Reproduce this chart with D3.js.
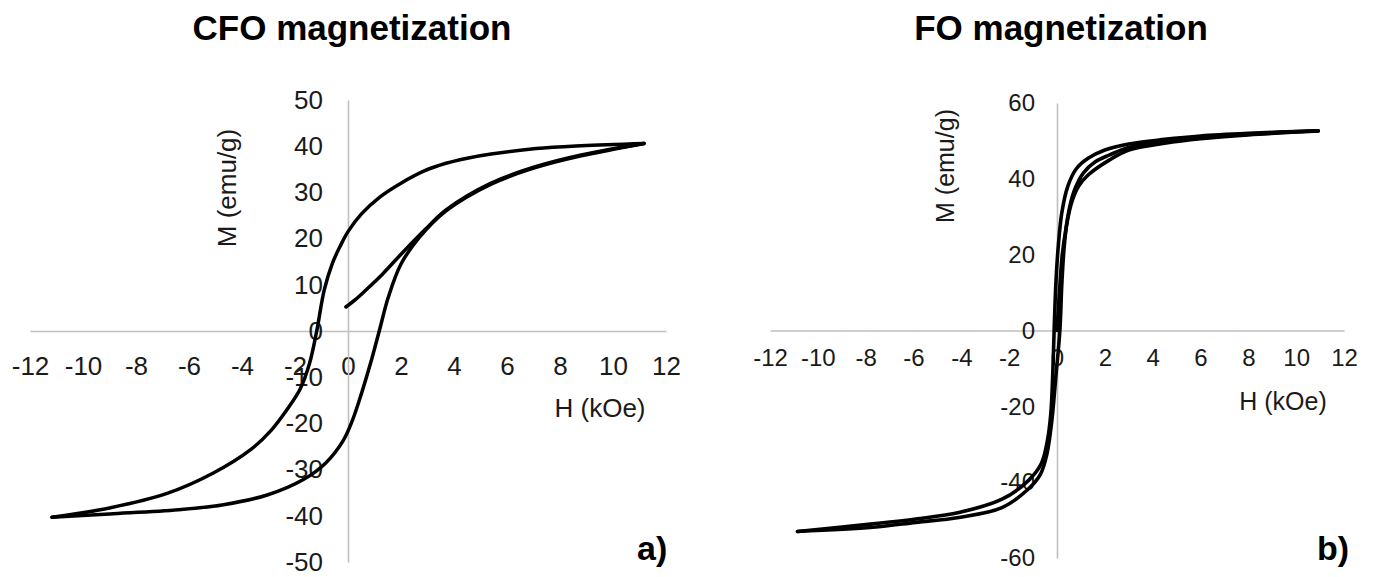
<!DOCTYPE html>
<html>
<head>
<meta charset="utf-8">
<script src="https://cdn.jsdelivr.net/npm/d3@7"></script>
<style>
  html, body { margin: 0; padding: 0; background: #fff; }
  svg { display: block; }
</style>
</head>
<body>
<svg id="chart" width="1375" height="577"></svg>
<script>
// ---- Data (H in kOe, M in emu/g) ----
const xTicks = [-12, -10, -8, -6, -4, -2, 0, 2, 4, 6, 8, 10, 12];
const cfoYTicks = [-50, -40, -30, -20, -10, 0, 10, 20, 30, 40, 50];
const foYTicks = [-60, -40, -20, 0, 20, 40, 60];

const cfoDescending = [
  [11.17, 40.6], [8.8, 40.1], [7.1, 39.5], [5.4, 38.3], [4.5, 37.4], [3.7, 36.3],
  [2.9, 34.7], [2.0, 32.0], [1.2, 29.0], [0.5, 25.3], [0.0, 21.5], [-0.3, 18.3],
  [-0.6, 14.5], [-0.9, 8.8], [-1.18, 0], [-1.45, -7], [-1.8, -12.5], [-2.3, -17],
  [-2.9, -21.5], [-3.7, -25.8], [-5.1, -30.8], [-6.8, -35.1], [-9.0, -38.3], [-11.17, -40.3]
];
const cfoAscending = [
  [-11.17, -40.3], [-9.0, -39.6], [-6.4, -38.7], [-4.7, -37.6], [-3.05, -35.5],
  [-1.7, -32.2], [-0.85, -28.6], [-0.17, -23.6], [0.17, -19.3], [0.51, -13.5],
  [0.85, -7], [1.18, 0], [1.52, 7.3], [2.0, 14.5], [2.7, 20.3], [3.7, 26],
  [5.4, 31.8], [7.1, 35.4], [8.8, 37.9], [11.17, 40.6]
];
const cfoVirgin = [
  [-0.08, 5.2], [0.3, 6.9], [0.7, 9.0], [1.3, 12.3], [2.0, 16.6], [2.9, 21.9],
  [3.7, 26.2], [5.4, 32.0], [7.1, 35.6], [8.8, 38.1], [11.17, 40.6]
];

const foDescending = [
  [10.92, 52.7], [8, 52.0], [6, 51.3], [4.5, 50.4], [3, 49.2], [2, 47.6], [1.3, 45.4],
  [0.8, 42.6], [0.45, 38], [0.2, 31], [0.05, 22], [-0.05, 12], [-0.12, 0], [-0.18, -12],
  [-0.26, -22], [-0.4, -29], [-0.65, -35], [-1.2, -39.6], [-2.3, -44.5], [-4.1, -48],
  [-5.9, -49.7], [-7.7, -51], [-10.85, -53]
];
const foAscending = [
  [-10.85, -53], [-7.7, -51.9], [-5.9, -50.6], [-4.1, -49.3], [-2.3, -46.7],
  [-1.2, -41.8], [-0.7, -38], [-0.42, -32.5], [-0.22, -24], [-0.06, -13], [0.12, 0],
  [0.2, 12], [0.3, 22], [0.45, 30], [0.7, 36.5], [1.1, 41.5], [1.6, 44.5], [2.2, 46.3],
  [3, 48.3], [4.5, 49.8], [6, 50.8], [8, 51.8], [10.92, 52.7]
];
const foVirgin = [
  [0, 0], [0.1, 10], [0.22, 20], [0.38, 27], [0.6, 33.5], [0.9, 38], [1.3, 41],
  [2.2, 45], [3, 47.6], [4.5, 49.4], [6, 50.6], [8, 51.6], [10.92, 52.6]
];

// ---- Drawing ----
const svg = d3.select("#chart");
const FONT = "'Liberation Sans', Arial, Helvetica, sans-serif";
const AXIS_GREY = "#bfbfbf";

function panel(opts) {
  const x = d3.scaleLinear().domain([-12, 12]).range(opts.xRange);
  const y = d3.scaleLinear().domain(opts.yDomain).range(opts.yRange);
  const g = svg.append("g");

  // x axis (crossing at M = 0)
  const gx = g.append("g")
    .attr("transform", `translate(0,${y(0)})`)
    .call(d3.axisBottom(x).tickValues(xTicks).tickSize(0).tickSizeOuter(0)
      .tickPadding(opts.xPad).tickFormat(d3.format("d")));
  // y axis (crossing at H = 0)
  const gy = g.append("g")
    .attr("transform", `translate(${x(0)},0)`)
    .call(d3.axisLeft(y).tickValues(opts.yTicks).tickSize(0).tickSizeOuter(0)
      .tickPadding(opts.yPad).tickFormat(d3.format("d")));
  [gx, gy].forEach(a => {
    a.attr("font-family", FONT).attr("font-size", opts.tickFont);
    a.select(".domain").attr("stroke", AXIS_GREY).attr("stroke-width", 1.6);
    a.selectAll("text").attr("fill", "#1a1a1a");
  });
  gx.selectAll("text").text(d => d < 0 ? "-" + Math.abs(d) : String(d));
  gy.selectAll("text").text(d => d < 0 ? "-" + Math.abs(d) : String(d));

  // curves
  const line = d3.line().x(d => x(d[0])).y(d => y(d[1])).curve(d3.curveCatmullRom.alpha(0.5));
  opts.series.forEach(s => {
    g.append("path").datum(s).attr("d", line)
      .attr("fill", "none").attr("stroke", "#000").attr("stroke-width", opts.lineW)
      .attr("stroke-linejoin", "round").attr("stroke-linecap", "round");
  });

  // titles
  g.append("text").attr("x", opts.titleX).attr("y", 40)
    .attr("text-anchor", "middle").attr("font-family", FONT)
    .attr("font-weight", "bold").attr("font-size", 35).attr("fill", "#000")
    .text(opts.title);
  g.append("text")
    .attr("transform", `translate(${opts.mLabel[0]},${opts.mLabel[1]}) rotate(-90)`)
    .attr("text-anchor", "middle").attr("dy", "0.35em")
    .attr("font-family", FONT).attr("font-size", opts.labelFont).attr("fill", "#1a1a1a")
    .text("M (emu/g)");
  g.append("text").attr("x", opts.hLabel[0]).attr("y", opts.hLabel[1])
    .attr("text-anchor", "middle").attr("dy", "0.35em")
    .attr("font-family", FONT).attr("font-size", opts.labelFont).attr("fill", "#1a1a1a")
    .text("H (kOe)");
  g.append("text").attr("x", opts.tag[0]).attr("y", opts.tag[1])
    .attr("font-family", FONT).attr("font-weight", "bold").attr("font-size", 34).attr("fill", "#000")
    .text(opts.tagText);
}

panel({
  xRange: [30, 666], yDomain: [-50, 50], yRange: [562, 100], yTicks: cfoYTicks,
  xPad: 26, yPad: 25, tickFont: 26, labelFont: 26, lineW: 3.5,
  series: [cfoDescending, cfoAscending, cfoVirgin],
  title: "CFO magnetization", titleX: 352,
  mLabel: [227, 188], hLabel: [600, 408], tag: [637, 560], tagText: "a)"
});

panel({
  xRange: [770, 1344], yDomain: [-60, 60], yRange: [558, 103], yTicks: foYTicks,
  xPad: 18, yPad: 22, tickFont: 24, labelFont: 25, lineW: 3.6,
  series: [foDescending, foAscending, foVirgin],
  title: "FO magnetization", titleX: 1061,
  mLabel: [945, 166], hLabel: [1283, 401], tag: [1317, 560], tagText: "b)"
});
</script>
</body>
</html>
